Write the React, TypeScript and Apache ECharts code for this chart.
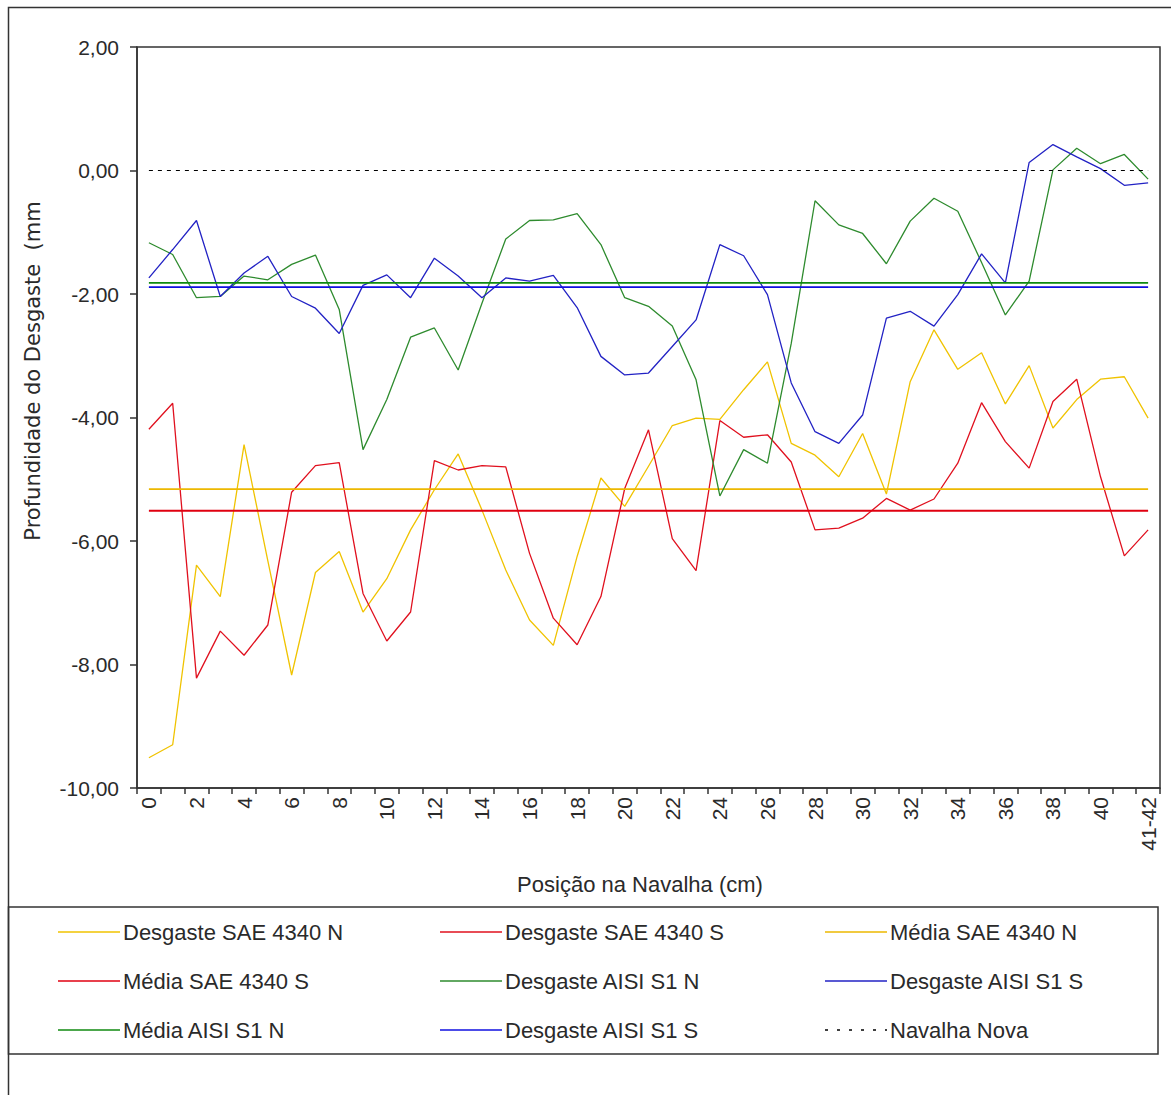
import React, { useEffect, useRef } from "react";
import * as echarts from "echarts";

const CATEGORIES = [
  "0", "1", "2", "3", "4", "5", "6", "7", "8", "9", "10",
  "11", "12", "13", "14", "15", "16", "17", "18", "19", "20",
  "21", "22", "23", "24", "25", "26", "27", "28", "29", "30",
  "31", "32", "33", "34", "35", "36", "37", "38", "39", "40",
  "41", "41-42",
];

const DESG_SAE_N = [
  -9.51, -9.3, -6.39, -6.9, -4.44, -6.32, -8.17, -6.51, -6.17, -7.15, -6.61,
  -5.82, -5.17, -4.59, -5.5, -6.47, -7.28, -7.69, -6.25, -4.98, -5.44,
  -4.79, -4.13, -4.01, -4.03, -3.55, -3.1, -4.42, -4.61, -4.96, -4.26,
  -5.24, -3.42, -2.58, -3.22, -2.95, -3.78, -3.16, -4.17, -3.71, -3.38,
  -3.34, -4.01,
];

const DESG_SAE_S = [
  -4.19, -3.77, -8.22, -7.46, -7.85, -7.36, -5.21, -4.78, -4.73, -6.85, -7.62,
  -7.15, -4.7, -4.85, -4.78, -4.8, -6.2, -7.25, -7.68, -6.9, -5.15,
  -4.2, -5.96, -6.48, -4.05, -4.32, -4.28, -4.72, -5.82, -5.79, -5.63,
  -5.31, -5.5, -5.32, -4.74, -3.76, -4.39, -4.82, -3.74, -3.38, -4.96,
  -6.24, -5.82,
];

const DESG_AISI_N = [
  -1.17, -1.36, -2.06, -2.04, -1.71, -1.77, -1.52, -1.37, -2.25, -4.52, -3.71,
  -2.7, -2.55, -3.23, -2.15, -1.11, -0.81, -0.8, -0.7, -1.2, -2.06,
  -2.2, -2.52, -3.39, -5.27, -4.52, -4.74, -2.8, -0.49, -0.88, -1.02,
  -1.51, -0.82, -0.45, -0.66, -1.49, -2.34, -1.79, 0.01, 0.36, 0.11,
  0.26, -0.14,
];

const DESG_AISI_S = [
  -1.74, -1.28, -0.81, -2.04, -1.66, -1.39, -2.04, -2.23, -2.64, -1.86, -1.69,
  -2.06, -1.42, -1.71, -2.06, -1.74, -1.79, -1.7, -2.22, -3.01, -3.31,
  -3.28, -2.85, -2.42, -1.2, -1.38, -2.01, -3.44, -4.23, -4.42, -3.96,
  -2.39, -2.28, -2.52, -2.01, -1.35, -1.82, 0.13, 0.42, 0.22, 0.03,
  -0.24, -0.2,
];

const MEDIA_SAE_N = -5.16;
const MEDIA_SAE_S = -5.51;
const MEDIA_AISI_N = -1.82;
const MEDIA_AISI_S = -1.89;
const NAVALHA_NOVA = 0;

const LEGEND_NAMES = [
  "Desgaste SAE 4340 N",
  "Desgaste SAE 4340 S",
  "Média SAE 4340 N",
  "Média SAE 4340 S",
  "Desgaste AISI S1 N",
  "Desgaste AISI S1 S",
  "Média AISI S1 N",
  "Desgaste AISI S1 S",
  "Navalha Nova",
];

const Y_TITLE = "Profundidade do Desgaste  (mm";
const X_TITLE = "Posição na Navalha (cm)";

const FONT = '"Liberation Sans", Arial, sans-serif';
const WIDE_FONT = '"DejaVu Sans", "Liberation Sans", sans-serif';
const TEXT_COLOR = "#2a2a2a";
const FRAME = "#333";

const YELLOW = "#F0C300";
const RED = "#E0101E";
const GREEN = "#2E8B2E";
const BLUE = "#2222C4";

const constant = (v: number) => CATEGORIES.map(() => v);

type SeriesDef = {
  data: number[];
  color: string;
  width: number;
  dash?: number[];
};

const SERIES_DEFS: SeriesDef[] = [
  { data: DESG_SAE_N, color: YELLOW, width: 1.3 },
  { data: DESG_SAE_S, color: RED, width: 1.3 },
  { data: constant(MEDIA_SAE_N), color: "#EDB800", width: 1.8 },
  { data: constant(MEDIA_SAE_S), color: "#E00010", width: 1.8 },
  { data: DESG_AISI_N, color: GREEN, width: 1.3 },
  { data: DESG_AISI_S, color: BLUE, width: 1.3 },
  { data: constant(MEDIA_AISI_N), color: "#108A10", width: 1.8 },
  { data: constant(MEDIA_AISI_S), color: "#1010E0", width: 1.8 },
  { data: constant(NAVALHA_NOVA), color: "#000", width: 1.2, dash: [4, 5] },
];

const LEG_COL_X = [58, 440, 825];
const LEG_ROW_Y = [932, 981, 1030];
const LEG_LINE_LEN = 62;

function buildLegend() {
  const els: any[] = [];
  LEGEND_NAMES.forEach((name, i) => {
    const col = i % 3;
    const row = Math.floor(i / 3);
    const x = LEG_COL_X[col];
    const y = LEG_ROW_Y[row];
    const def = SERIES_DEFS[i];
    els.push({
      type: "line",
      silent: true,
      shape: { x1: x, y1: y, x2: x + LEG_LINE_LEN, y2: y },
      style: {
        stroke: def.color,
        lineWidth: def.dash ? 1.3 : 1.6,
        lineDash: def.dash ? [3, 9] : null,
      },
    });
    els.push({
      type: "text",
      silent: true,
      x: x + LEG_LINE_LEN + 3,
      y: y,
      style: {
        text: name,
        font: `22px ${FONT}`,
        fill: TEXT_COLOR,
        textAlign: "left",
        textVerticalAlign: "middle",
      },
    });
  });
  return els;
}

function buildOption(): any {
  return {
    animation: false,
    backgroundColor: "#fff",
    grid: {
      left: 137,
      top: 47,
      right: 11,
      bottom: 307,
      show: true,
      borderColor: FRAME,
      borderWidth: 1.5,
      containLabel: false,
    },
    xAxis: {
      type: "category",
      data: CATEGORIES,
      boundaryGap: true,
      axisLine: { show: true, onZero: false, lineStyle: { color: FRAME, width: 1.5 } },
      axisTick: {
        show: true,
        interval: 0,
        length: 6,
        lineStyle: { color: FRAME, width: 1.5 },
      },
      axisLabel: {
        interval: 1,
        rotate: 90,
        margin: 9,
        fontSize: 21,
        fontFamily: FONT,
        color: TEXT_COLOR,
      },
      splitLine: { show: false },
    },
    yAxis: {
      type: "value",
      min: -10,
      max: 2,
      interval: 2,
      axisLine: { show: true, onZero: false, lineStyle: { color: FRAME, width: 1.5 } },
      axisTick: { show: true, length: 7, lineStyle: { color: FRAME, width: 1.5 } },
      axisLabel: {
        margin: 18,
        fontSize: 21,
        fontFamily: FONT,
        color: TEXT_COLOR,
        formatter: (v: number) => v.toFixed(2).replace(".", ","),
      },
      splitLine: { show: false },
    },
    series: SERIES_DEFS.map((d, i) => ({
      type: "line",
      name: `s${i}`,
      data: d.data,
      symbol: "none",
      silent: true,
      emphasis: { disabled: true },
      lineStyle: {
        color: d.color,
        width: d.width,
        type: d.dash ? d.dash : "solid",
      },
      itemStyle: { color: d.color },
      z: 2 + i * 0.01,
    })),
    graphic: [
      {
        type: "rect",
        silent: true,
        z: 0,
        shape: { x: 8.5, y: 7.5, width: 1300, height: 1300 },
        style: { fill: "none", stroke: FRAME, lineWidth: 1.5 },
      },
      {
        type: "rect",
        silent: true,
        shape: { x: 8.5, y: 907, width: 1149.5, height: 147 },
        style: { fill: "none", stroke: FRAME, lineWidth: 1.5 },
      },
      {
        type: "text",
        silent: true,
        x: 33,
        y: 371,
        rotation: Math.PI / 2,
        style: {
          text: Y_TITLE,
          font: `21px ${WIDE_FONT}`,
          fill: TEXT_COLOR,
          textAlign: "center",
          textVerticalAlign: "middle",
        },
      },
      {
        type: "text",
        silent: true,
        x: 640,
        y: 884,
        style: {
          text: X_TITLE,
          font: `22px ${FONT}`,
          fill: TEXT_COLOR,
          textAlign: "center",
          textVerticalAlign: "middle",
        },
      },
      ...buildLegend(),
    ],
  };
}

export default function App() {
  const ref = useRef<HTMLDivElement>(null);
  useEffect(() => {
    if (!ref.current) return;
    const chart = echarts.init(ref.current, null, { renderer: "svg" });
    chart.setOption(buildOption());
    return () => chart.dispose();
  }, []);
  return (
    <div
      ref={ref}
      style={{
        position: "absolute",
        left: 0,
        top: 0,
        width: 1171,
        height: 1095,
        background: "#fff",
      }}
    />
  );
}
